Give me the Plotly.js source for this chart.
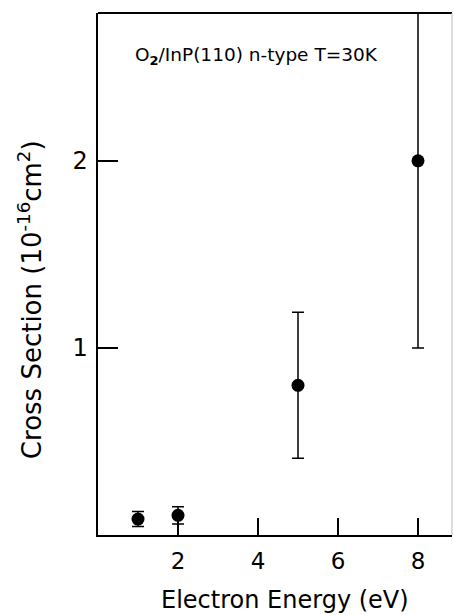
<!DOCTYPE html>
<html>
<head>
<meta charset="utf-8">
<script src="https://cdn.plot.ly/plotly-3.0.1.min.js"></script>
<style>html,body{margin:0;padding:0;background:#fff;}#chart{width:454px;height:615px;}</style>
</head>
<body>
<div id="chart"></div>
<script>
// Data
var energy = [1.0, 2.0, 5.0, 8.0];            // eV
var crossSection = [0.085, 0.105, 0.8, 2.0];  // 10^-16 cm^2
var errors = [0.04, 0.046, 0.39, 1.0];
var xTickVals = [2, 4, 6, 8];
var yTickVals = [1, 2];
var annotationText = 'O<sub><b>2</b></sub>/InP(110) n-type T=30K';
var xTitle = 'Electron Energy (eV)';
var yTitle = 'Cross Section (10<sup>-16</sup>cm<sup>2</sup>)';

var font = 'DejaVu Sans, Arial, Helvetica, sans-serif';

var trace = {
  x: energy,
  y: crossSection,
  mode: 'markers',
  type: 'scatter',
  marker: {color: '#000', size: 13, symbol: 'circle'},
  error_y: {type: 'data', array: errors, visible: true, color: '#000', thickness: 1.5, width: 6},
  hoverinfo: 'skip'
};

var layout = {
  width: 454, height: 615,
  margin: {l: 98, r: 2, t: 13, b: 80, pad: 0},
  paper_bgcolor: '#fff', plot_bgcolor: '#fff',
  showlegend: false,
  font: {family: font, color: '#000'},
  xaxis: {
    range: [0, 8.85],
    tickvals: xTickVals,
    ticktext: xTickVals.map(String),
    ticks: 'inside', ticklen: 17, tickwidth: 2, tickcolor: '#000',
    showline: true, linecolor: '#000', linewidth: 2,
    showgrid: false, zeroline: false,
    tickfont: {size: 23, family: font, color: '#000'},
    ticklabelstandoff: 4
  },
  yaxis: {
    range: [0, 2.79],
    tickvals: yTickVals,
    ticktext: yTickVals.map(String),
    ticks: 'inside', ticklen: 20, tickwidth: 1.5, tickcolor: '#000',
    showline: true, linecolor: '#000', linewidth: 2.5,
    showgrid: false, zeroline: false,
    tickfont: {size: 24, family: font, color: '#000'},
    ticklabelstandoff: 3
  },
  shapes: [
    {type: 'line', xref: 'paper', yref: 'paper', x0: 0, x1: 1, y0: 1, y1: 1, line: {color: '#000', width: 2}},
    {type: 'line', xref: 'paper', yref: 'paper', x0: 1, x1: 1, y0: 0, y1: 1, line: {color: '#bbb', width: 1}}
  ],
  annotations: [
    {text: annotationText, xref: 'paper', yref: 'paper', x: 0.098, y: 0.918, xanchor: 'left', yanchor: 'middle',
     showarrow: false, font: {size: 18.5, family: font, color: '#000'}},
    {text: xTitle, xref: 'paper', yref: 'paper', x: 0.527, y: -0.1245, xanchor: 'center', yanchor: 'middle',
     showarrow: false, font: {size: 24, family: font, color: '#000'}},
    {text: yTitle, xref: 'paper', yref: 'paper',
     x: -0.192, y: 0.450, xanchor: 'center', yanchor: 'middle', textangle: -90,
     showarrow: false, font: {size: 26, family: font, color: '#000'}}
  ]
};

Plotly.newPlot('chart', [trace], layout, {displayModeBar: false, staticPlot: true});
</script>
</body>
</html>
